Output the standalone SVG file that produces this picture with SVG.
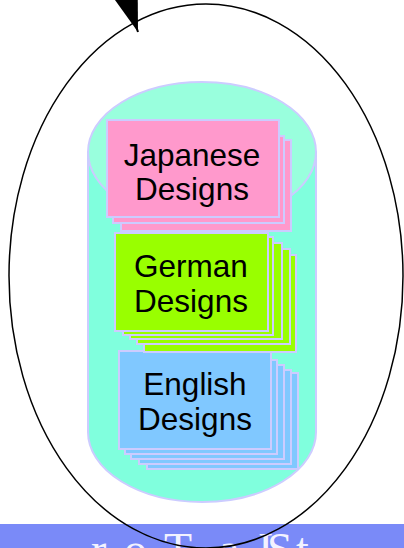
<svg xmlns="http://www.w3.org/2000/svg" width="404" height="548" viewBox="0 0 404 548">
<style>
.pg{stroke:#ccccff;stroke-width:2}
.jp{fill:#ff99cc}
.de{fill:#99ff00}
.en{fill:#80c8ff}
.lbl{font-family:"Liberation Sans",Arial,sans-serif;font-size:31.5px;fill:#000;text-anchor:middle}
.cyl{stroke:#ccccff;stroke-width:2}
</style>
<defs>
<marker id="ah" viewBox="0 0 44 28" refX="44" refY="14" markerWidth="44" markerHeight="28" markerUnits="userSpaceOnUse" orient="auto">
<path d="M0,0 L44,14 L0,28 Z" fill="#000"/>
</marker>
</defs>
<rect width="404" height="548" fill="#fff"/>
<g id="footer">
<rect x="0" y="524" width="404" height="24" fill="#7a8af8"/>
<text font-family="'Liberation Serif','Times New Roman',serif" font-size="46" fill="#f2f2ff" x="91 124 164 219 258 267 296" y="565">roTaISt</text>
</g>
<g id="cycle">
<ellipse cx="206" cy="276" rx="197" ry="272" fill="none" stroke="#000" stroke-width="1.5"/>
</g>
<g id="repository">
<path class="cyl" d="M88,152 L88,432 A114,70 0 0 0 316,432 L316,152 Z" fill="#80ffdd"/>
<ellipse class="cyl" cx="202" cy="152" rx="114" ry="70" fill="#99ffdd"/>
</g>
<g id="english">
<rect class="pg en" x="147" y="373" width="151" height="96"/>
<rect class="pg en" x="139" y="370" width="152" height="94"/>
<rect class="pg en" x="131" y="365" width="153" height="94"/>
<rect class="pg en" x="125" y="360" width="152" height="94"/>
<rect class="pg en" x="119" y="351" width="152" height="98"/>
<text class="lbl" x="195" y="395">English</text>
<text class="lbl" x="195" y="430">Designs</text>
</g>
<g id="german">
<rect class="pg de" x="144" y="255" width="152" height="97"/>
<rect class="pg de" x="137" y="249" width="153" height="95"/>
<rect class="pg de" x="130" y="243" width="152" height="96"/>
<rect class="pg de" x="123" y="237" width="150" height="98"/>
<rect class="pg de" x="115" y="233" width="153" height="98"/>
<text class="lbl" x="191" y="277">German</text>
<text class="lbl" x="191" y="312">Designs</text>
</g>
<g id="japanese">
<rect class="pg jp" x="121" y="140" width="170" height="91"/>
<rect class="pg jp" x="113" y="136" width="171" height="87"/>
<rect class="pg jp" x="107" y="120" width="172" height="97"/>
<text class="lbl" x="192" y="166">Japanese</text>
<text class="lbl" x="192" y="200">Designs</text>
</g>
<g id="connectors">
<path d="M107,-63 L138,32" stroke="#000" stroke-width="2" fill="none" marker-end="url(#ah)"/>
</g>
</svg>
